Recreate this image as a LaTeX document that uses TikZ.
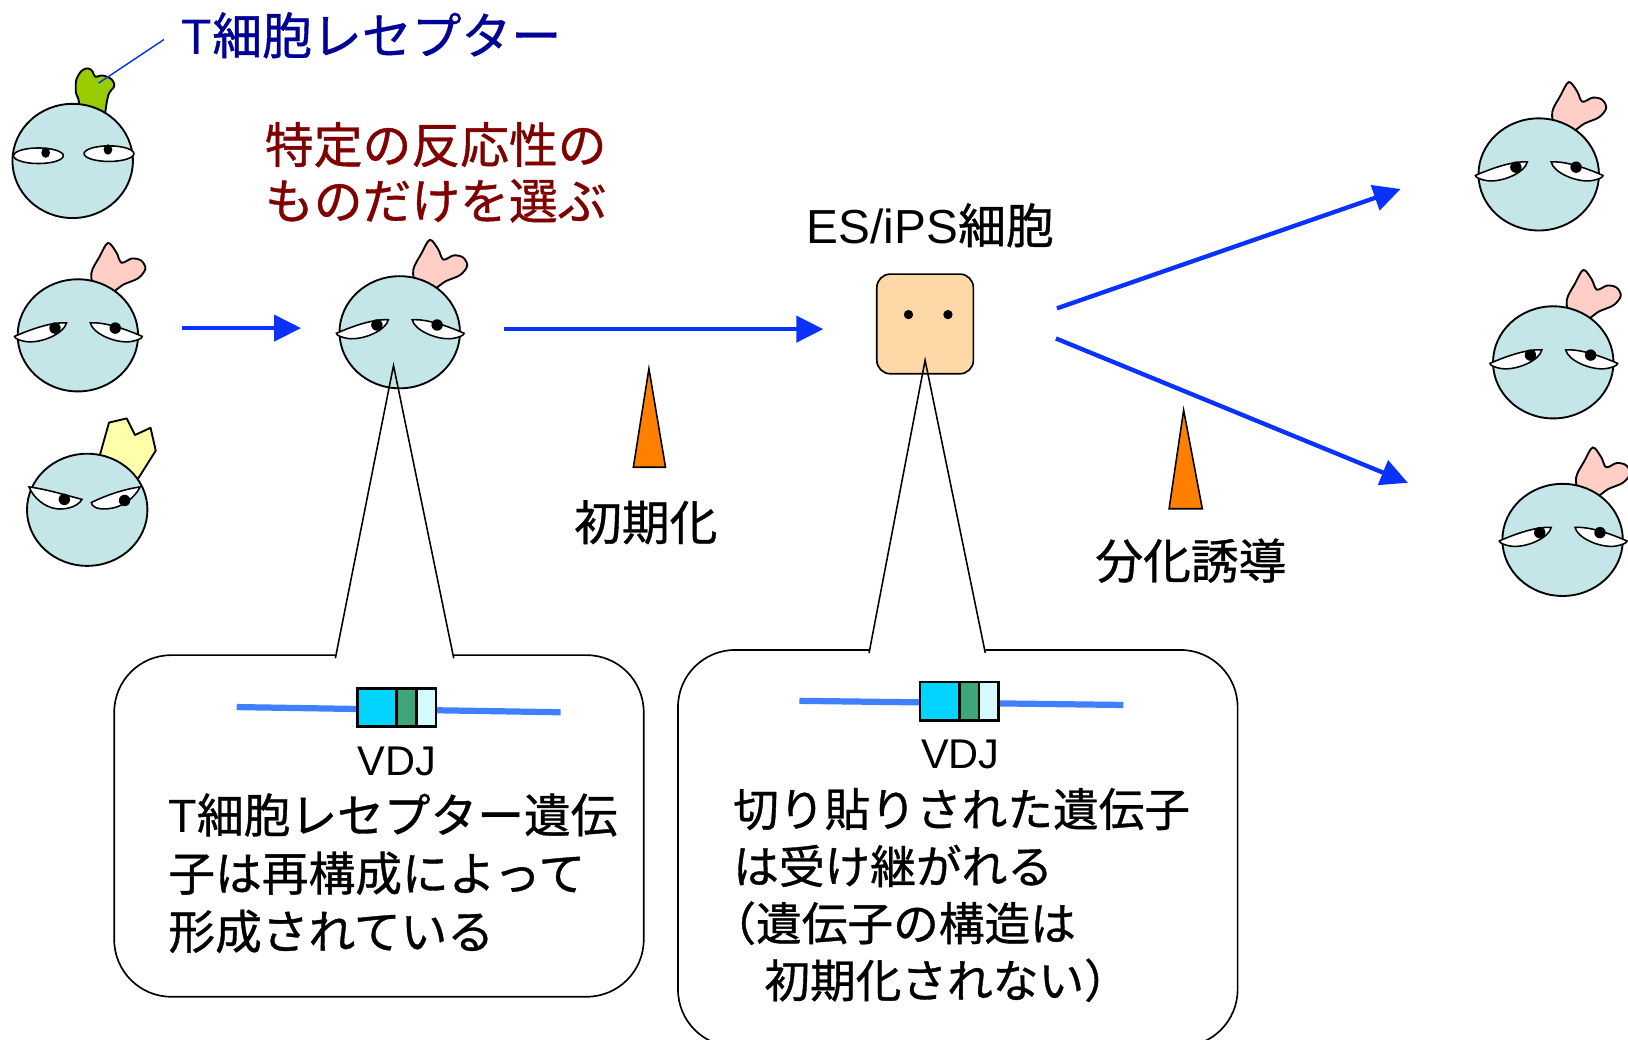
\documentclass[tikz,border=0pt]{standalone}
\usepackage{fontspec}
\setmainfont{Noto Sans CJK JP}[FakeBold=0.8]
\newfontfamily\lat{Liberation Sans}
\usetikzlibrary{arrows.meta}
\definecolor{cellfill}{RGB}{196,230,232}
\definecolor{pinkrec}{RGB}{255,206,198}
\definecolor{greenrec}{RGB}{153,204,0}
\definecolor{yellowrec}{RGB}{255,255,170}
\definecolor{esfill}{RGB}{255,216,168}
\definecolor{flow}{RGB}{10,50,255}
\definecolor{dna}{RGB}{64,128,255}
\definecolor{segv}{RGB}{0,212,255}
\definecolor{segd}{RGB}{60,165,122}
\definecolor{segj}{RGB}{212,252,255}
\definecolor{trig}{RGB}{255,128,0}
\definecolor{titleblue}{RGB}{0,0,150}
\definecolor{darkred}{RGB}{128,0,0}
\begin{document}
\begin{tikzpicture}[x=1pt,y=-1pt,
  outl/.style={draw=black,line width=1.8pt},
  eyewhite/.style={fill=white,draw=black,line width=1.5pt},
  flowarrow/.style={draw=flow,line width=4.2pt,-{Triangle[length=26pt,width=25pt]}},
  ptr/.style={draw=black,line width=1.5pt},
  callout/.style={draw=black,line width=1.6pt,rounded corners=55pt},
  trigger/.style={draw=black,line width=1.5pt,fill=trig},
  lbl/.style={inner sep=0pt,font=\fontsize{46}{56}\selectfont},
  dnaline/.style={draw=dna,line width=6pt},
  seg/.style={draw=black,line width=2.6pt},
  % T cell carrying the selected (pink) receptor
  pics/pinkcell/.style={code={
    \draw[outl,fill=pinkrec] plot[smooth cycle,tension=0.55] coordinates
      {(16,-44) (13,-60) (21,-76) (29,-89) (37,-80) (42,-70) (52,-74) (61,-72) (65,-64) (58,-55) (44,-49) (34,-42) (24,-40)};
    \draw[outl,fill=cellfill] (0,0) ellipse [x radius=58,y radius=54];
    \draw[eyewhite] (-61,1) .. controls (-45,-6) and (-25,-13) .. (-11,-12) .. controls (-13,-2) and (-35,8) .. (-50,6) .. controls (-56,5) and (-61,3) .. (-61,1) -- cycle;
    \draw[eyewhite] (62,1) .. controls (46,-6) and (26,-13) .. (12,-12) .. controls (14,-2) and (36,8) .. (51,6) .. controls (57,5) and (62,3) .. (62,1) -- cycle;
    \fill (-22,-7) circle [radius=5.5];
    \fill (36,-7) circle [radius=5.5];
  }},
  % T cell with the green receptor
  pics/greencell/.style={code={
    \draw[outl,fill=greenrec,rounded corners=3pt] (6,-46) -- (6,-60) -- (3,-64) -- (3,-78) -- (8,-87) -- (15,-90) -- (20,-86) -- (21,-80) -- (28,-83) -- (38,-79) -- (41,-72) -- (35,-66) -- (33,-58) -- (31,-44) -- cycle;
    \draw[outl,fill=cellfill] (0,0) ellipse [x radius=58,y radius=55];
    \draw[eyewhite] (-33,-5) ellipse [x radius=24,y radius=7.5];
    \draw[eyewhite] (35,-7) ellipse [x radius=24,y radius=7.5];
    \fill (-26,-8) ellipse [x radius=4.2,y radius=5];
    \fill (34,-11) ellipse [x radius=4.2,y radius=5];
  }},
  % T cell with the yellow receptor
  pics/yellowcell/.style={code={
    \draw[outl,fill=yellowrec,line join=round] (12,-52) -- (21,-84) -- (38,-88) -- (46,-72) -- (61,-79) -- (66,-57) -- (49,-30) -- (30,-40) -- cycle;
    \draw[outl,fill=cellfill] (0,0) ellipse [x radius=58,y radius=54];
    \draw[eyewhite] (-56,-22) .. controls (-40,-20) and (-20,-14) .. (-5,-10) .. controls (-10,-2) and (-22,0) .. (-30,-1) .. controls (-42,-3) and (-52,-12) .. (-56,-22) -- cycle;
    \draw[eyewhite] (4,-7) .. controls (18,-14) and (36,-20) .. (51,-22) .. controls (46,-12) and (34,-2) .. (20,-1) .. controls (10,0) and (4,-3) .. (4,-7) -- cycle;
    \fill (-22,-10) circle [radius=5.5];
    \fill (36,-9) circle [radius=5.5];
  }},
]
\useasboundingbox (0,0) rectangle (1568,1001);

% starting repertoire of T cells
\pic (c1) at (70,155) {greencell};
\pic (c2) at (75,323) {pinkcell};
\pic (c3) at (84,491) {yellowcell};
% selected T cell
\pic (c4) at (385,320) {pinkcell};
% differentiated T cells
\pic (r1) at (1482,168) {pinkcell};
\pic (r2) at (1496,349) {pinkcell};
\pic (r3) at (1505,520) {pinkcell};

% receptor label with its leader line
\node[lbl,text=titleblue,anchor=west,font=\fontsize{48}{58}\selectfont] (title) at (175,34) {{\lat T}細胞レセプター};
\coordinate (leadA) at (158,38);
\coordinate (leadB) at (95,80);
\draw[flow,line width=1.4pt] (leadA) -- (leadB);

\node[lbl,text=darkred,anchor=west,align=left,font=\fontsize{47}{54}\selectfont] (select) at (255,166) {特定の反応性の\\ものだけを選ぶ};

% ES/iPS cell
\node[draw=black,line width=1.6pt,fill=esfill,rounded corners=13pt,minimum width=93pt,minimum height=96pt,inner sep=0pt] (es) at (891,312) {};
\fill (875,303) circle [radius=4.5];
\fill (913,303) circle [radius=4.5];
\node[lbl] (eslabel) at (896,217) {{\lat ES/iPS}細胞};

% flow arrows
\coordinate (a1s) at (175,316);
\coordinate (a1e) at (290,316);
\coordinate (a2s) at (485,317);
\coordinate (a2e) at (793,317);
\coordinate (a3s) at (1018,297);
\coordinate (a3e) at (1349,182);
\coordinate (a4s) at (1017,326);
\coordinate (a4e) at (1356,465);
\draw[flowarrow] (a1s) -- (a1e);
\draw[flowarrow] (a2s) -- (a2e);
\draw[flowarrow] (a3s) -- (a3e);
\draw[flowarrow] (a4s) -- (a4e);

% process triggers
\draw[trigger] (625,355) -- (641,450) -- (610,450) -- cycle;
\node[lbl] (reprog) at (622,503) {初期化};
\draw[trigger] (1140,395) -- (1158,490) -- (1126,490) -- cycle;
\node[lbl] (induce) at (1147,540) {分化誘導};

% callout for the T cell
\coordinate (p1) at (379,352);
\draw[callout] (437,631) -- (620,631) -- (620,960) -- (110,960) -- (110,631) -- (323,631);
\draw[ptr] (323,634) -- (p1) -- (437,634);
\draw[dnaline] (228,681) -- (540,686);
\filldraw[seg,fill=segv] (344,663) rectangle (382,700);
\filldraw[seg,fill=segd] (382,663) rectangle (401,700);
\filldraw[seg,fill=segj] (401,663) rectangle (420,700);
\node[lbl,font=\lat\fontsize{40}{48}\selectfont] (vdj1) at (382,733) {VDJ};
\node[lbl,anchor=west,align=left,font=\fontsize{45}{56}\selectfont] (note1) at (162,841) {{\lat T}細胞レセプター遺伝\\子は再構成によって\\形成されている};

% callout for the ES/iPS cell
\coordinate (p2) at (891,347);
\draw[callout] (949,626) -- (1192,626) -- (1192,1008) -- (653,1008) -- (653,626) -- (837,626);
\draw[ptr] (837,629) -- (p2) -- (949,629);
\draw[dnaline] (770,675) -- (1082,679);
\filldraw[seg,fill=segv] (886,657) rectangle (924,694);
\filldraw[seg,fill=segd] (924,657) rectangle (943,694);
\filldraw[seg,fill=segj] (943,657) rectangle (962,694);
\node[lbl,font=\lat\fontsize{40}{48}\selectfont] (vdj2) at (925,727) {VDJ};
\node[lbl,anchor=west,align=left,font=\fontsize{44}{55}\selectfont] (note2) at (706,862) {切り貼りされた遺伝子\\は受け継がれる\\\hspace{-22pt}（遺伝子の構造は\\\hspace{30pt}初期化されない）};
\end{tikzpicture}
\end{document}
